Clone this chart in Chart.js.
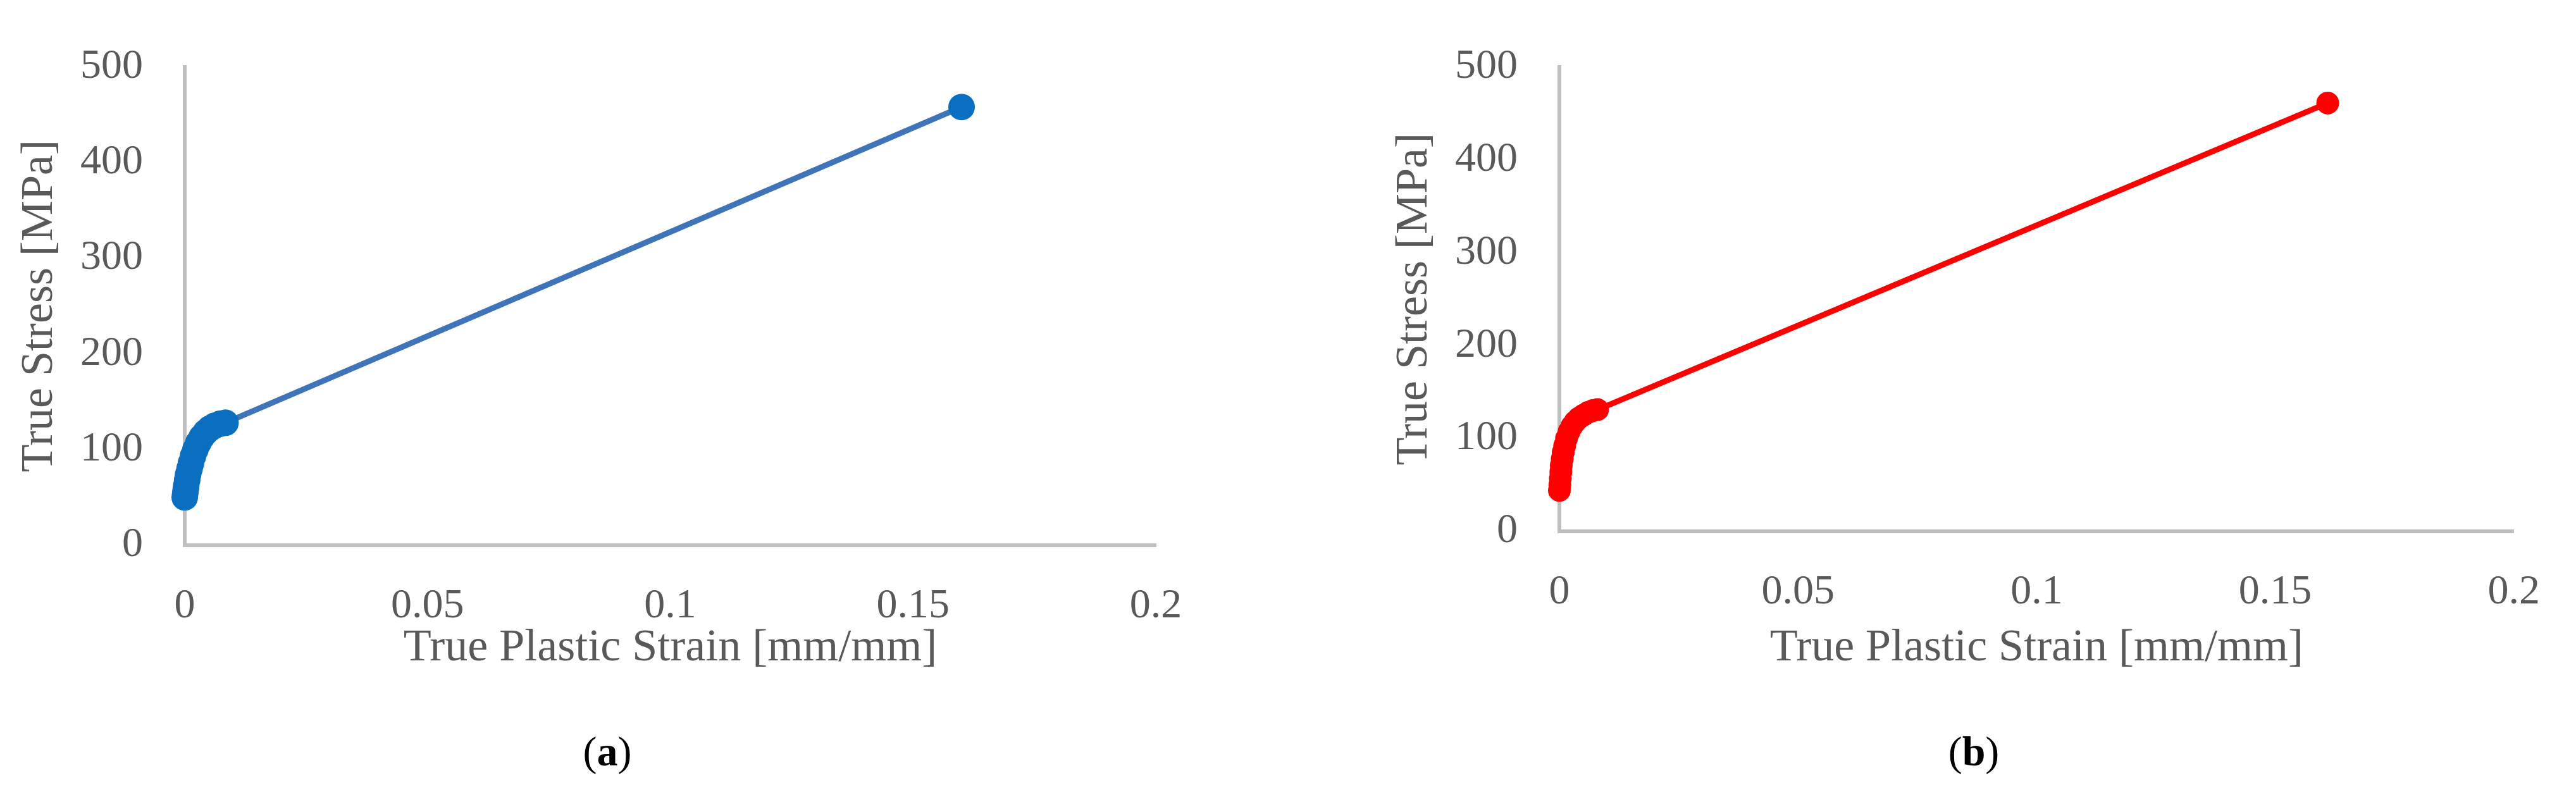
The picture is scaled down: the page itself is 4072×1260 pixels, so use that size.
<!DOCTYPE html>
<html>
<head>
<meta charset="utf-8">
<script src="https://cdn.jsdelivr.net/npm/chart.js@4.4.1/dist/chart.umd.min.js"></script>
<style>
  html, body { margin: 0; padding: 0; background: #fff; }
  body { width: 4072px; height: 1260px; position: relative; overflow: hidden; }
  .panel { position: absolute; top: 0; height: 1260px; }
  .tag { position: absolute; font-family: 'Liberation Serif', serif; font-size: 66px; color: #000;
         transform: translate(-50%, -50%); white-space: nowrap; }
</style>
</head>
<body>
<div class="panel" id="wrapA" style="left:0;width:2036px"><canvas id="chartA"></canvas></div>
<div class="panel" id="wrapB" style="left:2173px;width:1899px"><canvas id="chartB"></canvas></div>
<div class="tag" style="left:960px;top:1188px">(<b>a</b>)</div>
<div class="tag" style="left:3120px;top:1188px">(<b>b</b>)</div>
<script>
// values
const strainA = [0, 0.0001, 0.0002, 0.0003, 0.0005, 0.0007, 0.0010, 0.0013, 0.0017, 0.0022, 0.0028, 0.0035, 0.0043, 0.0052, 0.0062, 0.0073, 0.0084, 0.160];
const stressA = [50, 54, 58, 62, 68, 74, 80, 86, 93, 100, 107, 113, 118, 122, 125, 127, 128, 458];

const strainB = [0, 0.0001, 0.0002, 0.0003, 0.0004, 0.0006, 0.0008, 0.0011, 0.0015, 0.0020, 0.0026, 0.0033, 0.0041, 0.0050, 0.0060, 0.0070, 0.0080, 0.161];
const stressB = [44, 50, 57, 64, 71, 78, 85, 92, 100, 107, 113, 118, 122, 125, 128, 130, 131, 461];

const xTitle = 'True Plastic Strain [mm/mm]';
const yTitle = 'True Stress [MPa]';

const FONT = 'Liberation Serif';
const TEXT = '#595959';
const AXIS = '#bfbfbf';

function toPoints(xs, ys) {
  return xs.map((x, i) => ({ x: x, y: ys[i] }));
}

// 0.10 -> "0.1", like Excel's general format
function plainNumber(v) {
  return String(Math.round(v * 1000) / 1000);
}

function makeChart(id, cfg) {
  const ctx = document.getElementById(id).getContext('2d');
  return new Chart(ctx, {
    type: 'scatter',
    data: {
      datasets: [{
        data: toPoints(cfg.xs, cfg.ys),
        showLine: true,
        clip: false,
        borderColor: cfg.line,
        borderWidth: 9,
        pointRadius: cfg.radius,
        pointBackgroundColor: cfg.point,
        pointBorderWidth: 0
      }]
    },
    options: {
      responsive: true,
      maintainAspectRatio: false,
      animation: false,
      layout: { padding: { left: 0, right: cfg.right, top: cfg.top, bottom: 0 } },
      plugins: { legend: { display: false }, tooltip: { enabled: false } },
      scales: {
        x: {
          type: 'linear', min: 0, max: 0.2,
          afterFit: s => { s.height = cfg.xh; },
          ticks: { stepSize: 0.05, color: TEXT, padding: 57, font: { family: FONT, size: 66 }, callback: plainNumber },
          grid: { display: false, drawTicks: false },
          border: { color: AXIS, width: 6 },
          title: { display: true, text: xTitle, color: TEXT, padding: { top: 0, bottom: 192 }, font: { family: FONT, size: 72 } }
        },
        y: {
          type: 'linear', min: 0, max: 500,
          afterFit: s => { s.width = 292; },
          ticks: { stepSize: 100, color: TEXT, padding: 66, font: { family: FONT, size: 66 }, callback: plainNumber },
          grid: { display: false, drawTicks: false },
          border: { color: AXIS, width: 6 },
          title: { display: true, text: yTitle, color: TEXT, padding: 20, font: { family: FONT, size: 72 } }
        }
      }
    }
  });
}

makeChart('chartA', { xs: strainA, ys: stressA, line: '#4074b8', point: '#0b6fc1', radius: 21, right: 209, top: 75, xh: 398 });
makeChart('chartB', { xs: strainB, ys: stressB, line: '#ff0000', point: '#ff0000', radius: 18, right: 64, top: 65, xh: 420 });
</script>
</body>
</html>
